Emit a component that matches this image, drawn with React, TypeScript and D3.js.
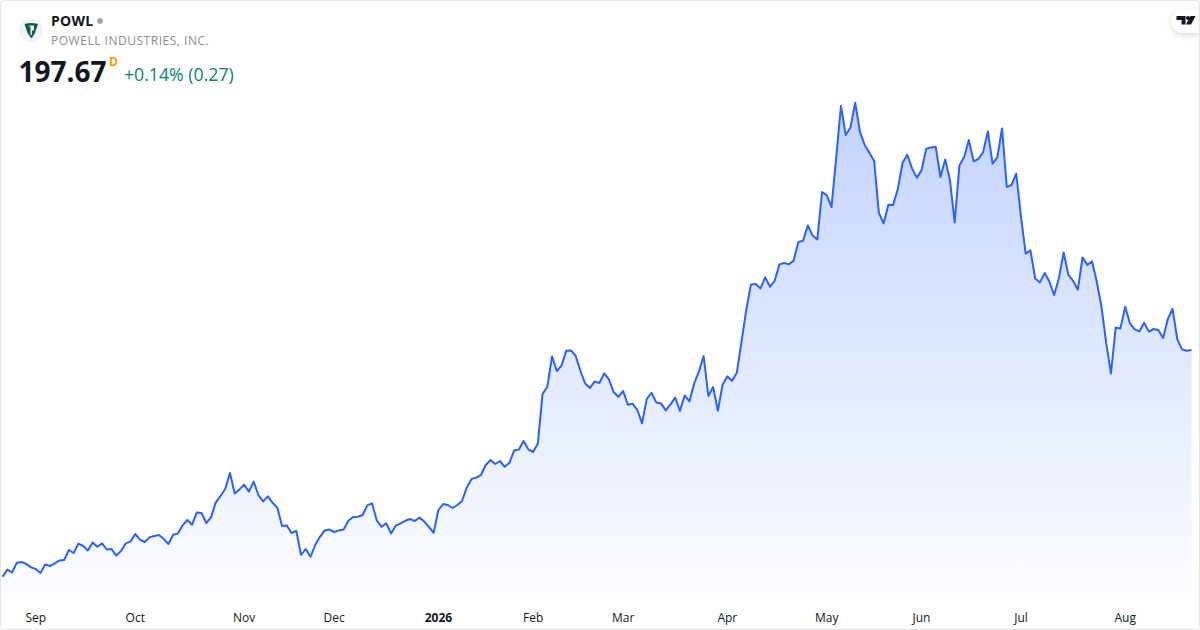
import React, { useRef, useEffect } from "react";
import * as d3 from "d3";

const closes = [
  84.3, 87.9, 86.5, 91.3, 91.7, 90.7, 89.0, 88.2, 86.2, 90.5, 89.7, 91.0, 92.5, 92.7, 97.7, 96.2,
  100.9, 99.7, 97.5, 101.5, 99.3, 101.0, 97.9, 98.2, 94.9, 97.2, 101.0, 101.9, 105.7, 102.9, 101.7, 104.0,
  104.7, 105.2, 103.3, 100.7, 105.3, 105.9, 110.0, 112.7, 110.3, 116.5, 116.2, 111.2, 114.0, 121.5, 124.7, 128.2,
  136.2, 126.0, 128.0, 130.3, 126.9, 131.9, 125.2, 122.0, 124.5, 121.3, 118.9, 109.7, 109.9, 106.2, 107.3, 95.2,
  98.2, 94.3, 100.2, 104.3, 107.5, 107.9, 106.7, 107.5, 108.0, 112.3, 114.2, 114.3, 115.2, 120.0, 121.0, 112.5,
  109.3, 111.0, 106.0, 109.9, 111.0, 112.3, 113.2, 112.2, 113.9, 112.0, 109.2, 106.3, 117.7, 120.7, 120.2, 118.7,
  120.2, 122.2, 129.0, 133.2, 133.9, 135.3, 140.2, 142.7, 140.7, 142.2, 139.3, 141.3, 147.5, 147.9, 152.2, 148.0,
  146.7, 151.0, 175.7, 179.3, 194.5, 187.2, 189.9, 197.3, 197.5, 194.7, 187.2, 180.9, 178.7, 182.0, 181.2, 186.0,
  183.0, 176.7, 174.3, 177.2, 170.3, 170.9, 167.7, 161.0, 173.3, 176.3, 171.5, 171.0, 167.5, 170.5, 173.9, 167.2,
  175.0, 172.0, 181.0, 186.9, 194.7, 174.7, 179.2, 167.3, 180.3, 184.5, 182.3, 186.3, 201.9, 217.7, 230.5, 230.7,
  228.5, 234.0, 229.3, 232.3, 240.5, 241.2, 240.5, 242.4, 251.7, 252.3, 260.0, 254.9, 252.9, 276.7, 275.0, 269.2,
  294.3, 319.7, 305.2, 308.9, 321.3, 306.9, 300.2, 296.3, 292.2, 266.3, 261.0, 270.3, 270.2, 278.2, 291.3, 295.3,
  288.5, 283.9, 287.5, 298.3, 299.0, 299.3, 284.2, 293.0, 282.7, 261.5, 289.9, 294.2, 302.7, 292.0, 293.2, 296.5,
  307.0, 290.9, 294.0, 308.5, 279.2, 280.2, 285.9, 264.3, 245.9, 247.5, 233.5, 231.5, 236.2, 231.9, 225.2, 233.5,
  246.5, 235.3, 232.3, 227.9, 244.0, 240.2, 242.0, 231.9, 219.3, 201.0, 186.0, 209.0, 208.5, 219.3, 211.0, 208.0,
  207.0, 211.3, 206.9, 208.2, 207.7, 203.7, 213.2, 218.3, 203.0, 198.0, 197.3, 197.67,
];

const monthLabels = ["Sep", "Oct", "Nov", "Dec", "2026", "Feb", "Mar", "Apr", "May", "Jun", "Jul", "Aug"];
const monthStarts = [7, 28, 51, 70, 92, 112, 131, 153, 174, 194, 215, 237];

const WIDTH = 1200;
const HEIGHT = 630;
const FONT = "'Open Sans', sans-serif";

const App = () => {
  const chartRef = useRef(null);

  useEffect(() => {
    const svg = d3.select(chartRef.current);
    svg.selectAll("*").remove();

    const x = d3
      .scalePoint<number>()
      .domain(closes.map((_, i) => i))
      .range([2.6, 1191.5]);
    const y = d3.scaleLinear().domain([72.7, 372.7]).range([600, 0]);

    const defs = svg.append("defs");
    const grad = defs
      .append("linearGradient")
      .attr("id", "areaFill")
      .attr("gradientUnits", "userSpaceOnUse")
      .attr("x1", 0)
      .attr("x2", 0)
      .attr("y1", y(d3.max(closes)))
      .attr("y2", 600);
    grad.append("stop").attr("offset", 0).attr("stop-color", "#2962ff").attr("stop-opacity", 0.28);
    grad.append("stop").attr("offset", 1).attr("stop-color", "#2962ff").attr("stop-opacity", 0.01);

    const shadow = defs.append("filter").attr("id", "tabShadow").attr("x", "-40%").attr("y", "-40%").attr("width", "180%").attr("height", "180%");
    shadow
      .append("feDropShadow")
      .attr("dx", 0)
      .attr("dy", 2)
      .attr("stdDeviation", 3)
      .attr("flood-color", "#000")
      .attr("flood-opacity", 0.16);

    svg.append("rect").attr("width", WIDTH).attr("height", HEIGHT).attr("fill", "#fff");

    const area = d3
      .area<number>()
      .x((_, i) => x(i))
      .y0(600)
      .y1((d) => y(d));
    const line = d3
      .line<number>()
      .x((_, i) => x(i))
      .y((d) => y(d));

    svg.append("path").datum(closes).attr("d", area).attr("fill", "url(#areaFill)");
    svg
      .append("path")
      .datum(closes)
      .attr("d", line)
      .attr("fill", "none")
      .attr("stroke", "#2962ff")
      .attr("stroke-width", 2)
      .attr("stroke-linejoin", "round");

    // time axis, no domain line or tick marks
    const axis = svg
      .append("g")
      .attr("transform", "translate(-0.5, 610)")
      .call(
        d3
          .axisBottom(x)
          .tickValues(monthStarts)
          .tickSize(0)
          .tickFormat((d) => monthLabels[monthStarts.indexOf(d)]),
      );
    axis.select(".domain").remove();
    axis
      .selectAll("text")
      .attr("fill", "#131722")
      .style("font-family", FONT)
      .style("font-size", "12px")
      .style("font-weight", (d) => (d === 92 ? 700 : 400));

    // header
    const head = svg.append("g").style("font-family", FONT);
    head.append("circle").attr("cx", 31).attr("cy", 30).attr("r", 12).attr("fill", "#f0f3fa");
    head.append("path").attr("d", "M24.5 24 Q31 22 38 24 L35 33 L31.5 38.5 L27.5 33 Z").attr("fill", "#14594a");
    head.append("path").attr("d", "M29 25.5 H34 V30.5 H32 V35 H30.5 V26.5 H29 Z").attr("fill", "#e3ece8");
    head
      .append("text")
      .attr("x", 51)
      .attr("y", 26)
      .attr("font-size", 14)
      .attr("font-weight", 700)
      .attr("letter-spacing", 0.3)
      .attr("fill", "#131722")
      .text("POWL");
    head.append("circle").attr("cx", 100).attr("cy", 21).attr("r", 3).attr("fill", "#a3a6af");
    head
      .append("text")
      .attr("x", 51)
      .attr("y", 45)
      .attr("font-size", 12)
      .attr("letter-spacing", 0.52)
      .attr("fill", "#8a8d96")
      .text("POWELL INDUSTRIES, INC.");
    head
      .append("text")
      .attr("x", 18.5)
      .attr("y", 82)
      .attr("font-size", 28)
      .attr("font-weight", 700)
      .attr("fill", "#131722")
      .text("197.67");
    head
      .append("text")
      .attr("x", 109)
      .attr("y", 66)
      .attr("font-size", 12)
      .attr("font-weight", 700)
      .attr("fill", "#ff9800")
      .text("D");
    head
      .append("text")
      .attr("x", 124)
      .attr("y", 81)
      .attr("font-size", 17.7)
      .attr("fill", "#0a8270")
      .text("+0.14% (0.27)");

    // TradingView tab in the corner
    const tab = svg.append("g");
    tab
      .append("path")
      .attr("d", "M1200 10 H1183 A11.5 11.5 0 0 0 1183 33 H1200 Z")
      .attr("fill", "#fff")
      .attr("filter", "url(#tabShadow)");
    tab.append("path").attr("d", "M1176.5 16 H1185.5 V24.5 H1181.5 V20 H1176.5 Z").attr("fill", "#131722");
    tab.append("circle").attr("cx", 1188).attr("cy", 18).attr("r", 2).attr("fill", "#131722");
    tab.append("path").attr("d", "M1190.5 16 H1195.5 L1191 24.5 H1186 Z").attr("fill", "#131722");

    // card outline
    svg
      .append("rect")
      .attr("x", 0.5)
      .attr("y", 0.5)
      .attr("width", WIDTH - 1)
      .attr("height", HEIGHT - 1)
      .attr("rx", 3)
      .attr("fill", "none")
      .attr("stroke", "#e6e6e8");
  }, []);

  return (
    <svg
      ref={chartRef}
      width={WIDTH}
      height={HEIGHT}
      style={{ position: "absolute", left: 0, top: 0 }}
    />
  );
};

export default App;
